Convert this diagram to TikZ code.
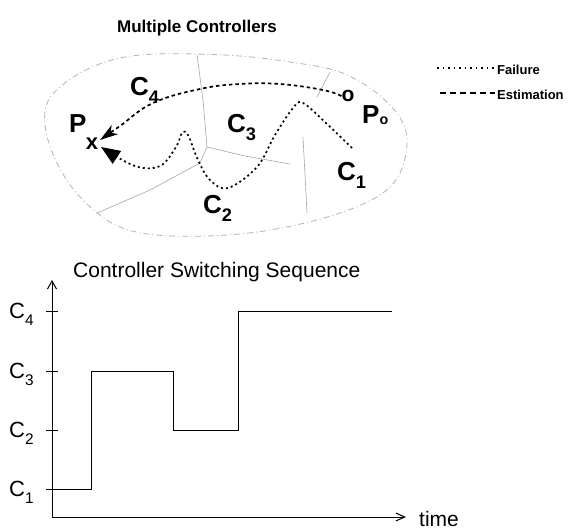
\documentclass[tikz,border=0pt]{standalone}
\usepackage{fontspec}
\setmainfont{Liberation Sans}
\usetikzlibrary{arrows.meta}
\newcommand{\sublab}[2]{#1\raisebox{-0.32em}{\scalebox{0.7}{#2}}}
\tikzset{
  region/.style={draw=black!30, line width=0.8pt, dash pattern=on 6pt off 3pt on 1pt off 3pt},
  border/.style={draw=black!35, line width=0.6pt},
  failpath/.style={line width=1.7pt, dash pattern=on 2pt off 3pt},
  estpath/.style={line width=1.7pt, dash pattern=on 3.5pt off 3pt},
  toplab/.style={anchor=base west, inner sep=0pt, font=\fontsize{26}{26}\selectfont\bfseries},
  botlab/.style={anchor=base west, inner sep=0pt, font=\fontsize{22}{22}\selectfont},
  axis/.style={line width=1pt}
}
\begin{document}
\begin{tikzpicture}[x=1pt,y=-1pt]
\useasboundingbox (0,0) rectangle (572,531);
% ---------- top part ----------
\node[anchor=base, inner sep=0pt, font=\fontsize{17}{17}\selectfont\bfseries] (t1) at (197,32) {Multiple Controllers};
% blob
\draw[region] plot[smooth cycle, tension=0.6] coordinates {
 (140,55) (223,55) (290,62) (345,74) (390,105) (407,140) (392,185)
 (340,213) (257,232) (173,236) (120,227) (83,200) (58,165) (45,125) (52,95) (90,68)};
% internal region borders
\draw[border] (197,55) -- (203,100) -- (207,147);
\draw[border] (207,147) -- (245,156) -- (290,164);
\draw[border] (207,147) -- (200,163) -- (150,190) -- (97,213);
\draw[border] (303,137) -- (305,175) -- (307,213);
\draw[border] (317,97) -- (330,72);
% labels
\node[toplab] (c4) at (130,95) {\sublab{C}{4}};
\node[toplab] (c3) at (227,132) {\sublab{C}{3}};
\node[toplab] (c1) at (337,180) {\sublab{C}{1}};
\node[toplab] (c2) at (203,213) {\sublab{C}{2}};
\node[toplab] (p) at (69,132) {P};
\node[toplab] (po) at (362,123) {P\raisebox{-0.05em}{\scalebox{0.55}{o}}};
\node[inner sep=0pt, font=\fontsize{22}{22}\selectfont\bfseries] (x) at (92,144) {x};
\node[inner sep=0pt, font=\fontsize{21}{21}\selectfont\bfseries] (o) at (348,96) {o};
% estimation path (upper)
\draw[estpath, -{Stealth[length=18pt, width=11pt, inset=5pt]}] plot[smooth, tension=0.7] coordinates {
 (o.west) (323,90) (280,84) (240,84) (200,89) (153,103) (120,126) (100,140)};
% failure path (lower)
\draw[failpath, -{Triangle[length=19pt, width=15pt]}] plot[smooth, tension=0.6] coordinates {
 (352,148) (327,124) (303,103) (293,108) (275,135) (257,167) (228,188) (210,180) (198,160) (188,135) (182,133) (176,147) (160,166) (135,166) (101,147)};
% legend
\coordinate (l1a) at (437,68); \coordinate (l1b) at (495,68);
\coordinate (l2a) at (440,93); \coordinate (l2b) at (495,93);
\draw[line width=1.2pt, dash pattern=on 1.5pt off 4pt] (l1a) -- (l1b);
\draw[line width=1.4pt, dash pattern=on 6pt off 4pt] (l2a) -- (l2b);
\node[anchor=base west, inner sep=0pt, font=\fontsize{13}{13}\selectfont\bfseries] (lf) at (497,74) {Failure};
\node[anchor=base west, inner sep=0pt, font=\fontsize{13}{13}\selectfont\bfseries] (le) at (497,99) {Estimation};
% ---------- bottom part ----------
\node[anchor=base west, inner sep=0pt, font=\fontsize{21}{21}\selectfont] (t2) at (73,277) {Controller Switching Sequence};
\coordinate (o2) at (52,517);
\coordinate (ytip) at (52,280);
\coordinate (xtip) at (406,517);
\draw[axis, -{Straight Barb[length=8pt, width=9pt]}] (o2) -- (ytip);
\draw[axis, -{Straight Barb[length=9pt, width=8pt]}] (o2) -- (xtip);
\node[anchor=base west, inner sep=0pt, font=\fontsize{21}{21}\selectfont] (time) at (419,526) {time};
% ticks
\foreach \y/\k in {311/4,371/3,430/2,489/1}{
  \draw[line width=0.9pt] (46,\y) -- (58,\y);
  \node[botlab] (b\k) at (9,\y+7) {\sublab{C}{\k}};
}
% switching sequence
\draw[line width=1pt] (52,489) -- (91,489) -- (91,371) -- (173,371) -- (173,430) -- (238,430) -- (238,311) -- (392,311);
\end{tikzpicture}
\end{document}
